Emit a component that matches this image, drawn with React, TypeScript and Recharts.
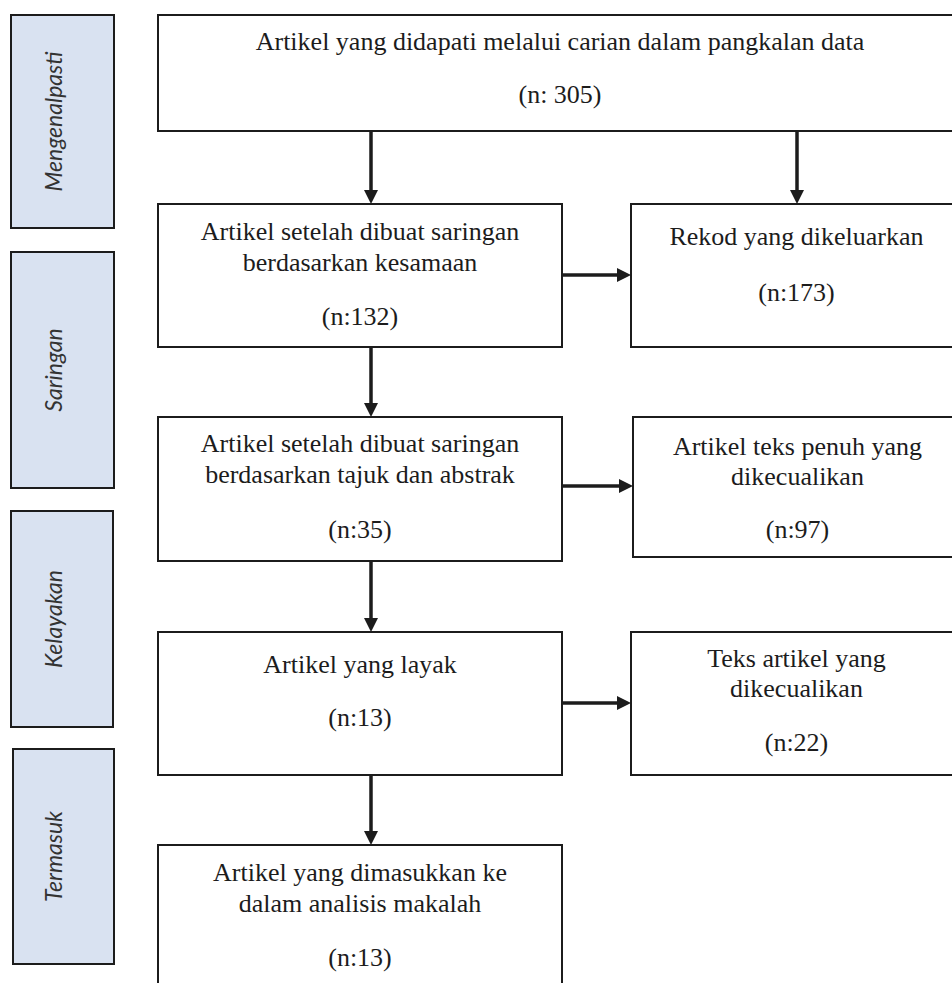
import { ComposedChart, ReferenceArea, ReferenceLine, Scatter, XAxis, YAxis } from "recharts";

// stage names on the left, read bottom to top
const stageLabels = ["Mengenalpasti", "Saringan", "Kelayakan", "Termasuk"];

// text of each flow box
const boxTitles = [
  ["Artikel yang didapati melalui carian dalam pangkalan data"],
  ["Artikel setelah dibuat saringan", "berdasarkan kesamaan"],
  ["Rekod yang dikeluarkan"],
  ["Artikel setelah dibuat saringan", "berdasarkan tajuk dan abstrak"],
  ["Artikel teks penuh yang", "dikecualikan"],
  ["Artikel yang layak"],
  ["Teks artikel yang", "dikecualikan"],
  ["Artikel yang dimasukkan ke", "dalam analisis makalah"],
];
const boxCounts = ["(n: 305)", "(n:132)", "(n:173)", "(n:35)", "(n:97)", "(n:13)", "(n:22)", "(n:13)"];

// layout, in page pixels (x1, x2, y1, y2)
const boxRects = [
  [158, 962, 15, 131],
  [158, 562, 204, 347],
  [631, 962, 204, 347],
  [158, 562, 417, 561],
  [633, 962, 417, 557],
  [158, 562, 632, 775],
  [631, 962, 632, 775],
  [158, 562, 845, 1010],
];
const titleRows = [[42], [232, 263], [237], [444, 475], [447, 477], [665], [659, 689], [873, 904]];
const countRows = [95, 317, 293, 530, 530, 718, 743, 958];
const stageRects = [
  [11, 114, 15, 228],
  [11, 114, 252, 488],
  [11, 113, 511, 727],
  [13, 114, 749, 964],
];
const stageTextX = 53;
const arrows = [
  [371, 131, 371, 204],
  [797, 131, 797, 204],
  [562, 275, 631, 275],
  [371, 347, 371, 417],
  [562, 486, 633, 486],
  [371, 561, 371, 632],
  [562, 703, 631, 703],
  [371, 775, 371, 845],
];

const W = 952;
const H = 983;
const INK = "#1c1c1c";
const SERIF = '"Liberation Serif", "Times New Roman", Times, serif';

const textPoints = boxTitles.flatMap((lines, i) => {
  const [x1, x2] = boxRects[i];
  const cx = (x1 + x2) / 2;
  const rows = lines.map((t, j) => ({ x: cx, y: titleRows[i][j], text: t }));
  rows.push({ x: cx, y: countRows[i], text: boxCounts[i] });
  return rows;
});

const stagePoints = stageLabels.map((t, i) => ({
  x: stageTextX,
  y: (stageRects[i][2] + stageRects[i][3]) / 2,
  text: t,
}));

function BoxText(props: any) {
  const { cx, cy, payload } = props;
  return (
    <text
      x={cx}
      y={cy + 8}
      textAnchor="middle"
      fontFamily={SERIF}
      fontSize={26}
      fill={INK}
      style={{ fontFamily: SERIF, fontStyle: "normal" }}
    >
      {payload.text}
    </text>
  );
}

function StageText(props: any) {
  const { cx, cy, payload } = props;
  return (
    <text
      x={cx}
      y={cy}
      textAnchor="middle"
      dominantBaseline="central"
      transform={`rotate(-90, ${cx}, ${cy})`}
      fontSize={23}
      fill="#333"
      style={{ fontFamily: "Lato, 'Liberation Sans', sans-serif", fontStyle: "italic" }}
    >
      {payload.text}
    </text>
  );
}

function Arrow(props: any) {
  const { x1, y1, x2, y2 } = props;
  const dx = x2 - x1;
  const dy = y2 - y1;
  const len = Math.sqrt(dx * dx + dy * dy) || 1;
  const ux = dx / len;
  const uy = dy / len;
  const head = 14;
  const half = 7;
  const bx = x2 - ux * head;
  const by = y2 - uy * head;
  const pts = `${x2},${y2} ${bx - uy * half},${by + ux * half} ${bx + uy * half},${by - ux * half}`;
  return (
    <g>
      <line x1={x1} y1={y1} x2={bx} y2={by} stroke={INK} strokeWidth={3.5} />
      <polygon points={pts} fill={INK} />
    </g>
  );
}

export default function App() {
  return (
    <div style={{ position: "absolute", left: 0, top: 0, width: W, height: H, background: "#fff" }}>
      <ComposedChart width={W} height={H} margin={{ top: 0, right: 0, bottom: 0, left: 0 }}>
        <XAxis type="number" dataKey="x" domain={[0, W]} allowDataOverflow hide />
        <YAxis type="number" dataKey="y" domain={[0, H]} allowDataOverflow reversed hide />
        {stageRects.map(([x1, x2, y1, y2], i) => (
          <ReferenceArea
            key={`s${i}`}
            x1={x1}
            x2={x2}
            y1={y1}
            y2={y2}
            fill="#d9e2f1"
            fillOpacity={1}
            stroke={INK}
            strokeWidth={2}
            ifOverflow="hidden"
          />
        ))}
        {boxRects.map(([x1, x2, y1, y2], i) => (
          <ReferenceArea
            key={`b${i}`}
            x1={x1}
            x2={x2}
            y1={y1}
            y2={y2}
            fill="#fff"
            fillOpacity={1}
            stroke={INK}
            strokeWidth={2}
            ifOverflow="hidden"
          />
        ))}
        {arrows.map(([x1, y1, x2, y2], i) => (
          <ReferenceLine
            key={`a${i}`}
            segment={[
              { x: x1, y: y1 },
              { x: x2, y: y2 },
            ]}
            shape={Arrow}
            ifOverflow="visible"
          />
        ))}
        <Scatter data={textPoints} shape={BoxText} isAnimationActive={false} />
        <Scatter data={stagePoints} shape={StageText} isAnimationActive={false} />
      </ComposedChart>
    </div>
  );
}
